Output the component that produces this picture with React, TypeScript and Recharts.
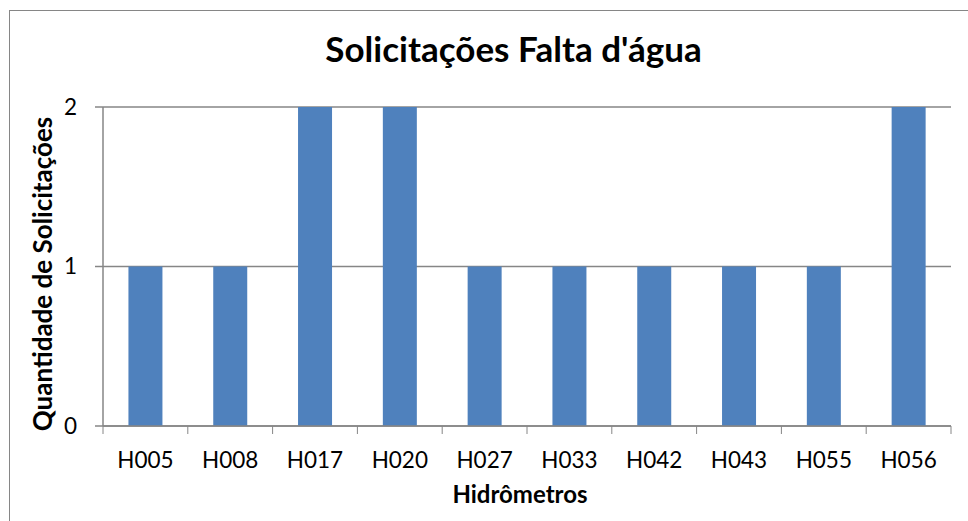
import React from 'react';
import { BarChart, Bar, XAxis, YAxis, CartesianGrid } from 'recharts';

// dados
const hidrometros = ['H005', 'H008', 'H017', 'H020', 'H027', 'H033', 'H042', 'H043', 'H055', 'H056'];
const solicitacoes = [1, 1, 2, 2, 1, 1, 1, 1, 1, 2];
const yTicks = [0, 1, 2];

const data = hidrometros.map((h, i) => ({ name: h, qtd: solicitacoes[i] }));

const W = 968;
const H = 521;
const MARGIN = { top: 107, right: 17, bottom: 35, left: 43 };
const Y_AXIS_W = 60;
const X_AXIS_H = 60;
const PLOT_W = W - MARGIN.left - MARGIN.right - Y_AXIS_W;
const BAND = PLOT_W / hidrometros.length;

const FONT = 'Lato, "Open Sans", sans-serif';
const AXIS_COLOR = '#868686';

// rótulo do eixo X com as marcas nos limites das categorias
const XTick = (props: any) => {
  const { x, y, payload, index } = props;
  const axisY = y - 8 - 18;
  const left = x - BAND / 2;
  const right = x + BAND / 2;
  return (
    <g>
      <line x1={left} x2={left} y1={axisY} y2={axisY + 8} stroke={AXIS_COLOR} />
      {index === hidrometros.length - 1 && (
        <line x1={right} x2={right} y1={axisY} y2={axisY + 8} stroke={AXIS_COLOR} />
      )}
      <text x={x} y={y} dy="0.71em" textAnchor="middle" fill="#000" fontSize={22.5} fontFamily={FONT}>
        {payload.value}
      </text>
    </g>
  );
};

const YTitle = () => (
  <text
    x={42}
    y={274}
    transform="rotate(-90 42 274)"
    textAnchor="middle"
    dominantBaseline="central"
    fontSize={26}
    fontWeight={700}
    fontFamily={FONT}
    fill="#000"
  >
    Quantidade de Solicitações
  </text>
);

const XTitle = () => (
  <text
    x={520}
    y={503}
    textAnchor="middle"
    fontSize={24}
    fontWeight={700}
    fontFamily={FONT}
    fill="#000"
  >
    Hidrômetros
  </text>
);

export default function App() {
  return (
    <div style={{ position: 'absolute', left: 0, top: 0, width: W, height: H, overflow: 'hidden', background: '#fff' }}>
      {/* moldura do gráfico */}
      <div
        style={{
          position: 'absolute',
          left: 9,
          top: 10,
          width: W,
          height: H,
          border: `1px solid ${AXIS_COLOR}`,
        }}
      />
      <div
        style={{
          position: 'absolute',
          left: 0,
          width: 1027,
          top: 28,
          textAlign: 'center',
          fontFamily: FONT,
          fontWeight: 700,
          fontSize: 35,
          lineHeight: '40px',
          color: '#000',
        }}
      >
        Solicitações Falta d'água
      </div>
      <div style={{ position: 'absolute', left: 0, top: 0 }}>
        <BarChart width={W} height={H} data={data} margin={MARGIN} barCategoryGap="30%">
          <CartesianGrid vertical={false} stroke={AXIS_COLOR} strokeWidth={1.5} />
          <XAxis
            dataKey="name"
            height={X_AXIS_H}
            stroke={AXIS_COLOR}
            strokeWidth={1.5}
            tickLine={false}
            tickSize={8}
            tickMargin={18}
            tick={<XTick />}
            interval={0}
            label={{ content: () => <XTitle /> }}
          />
          <YAxis
            width={Y_AXIS_W}
            domain={[0, 2]}
            ticks={yTicks}
            stroke={AXIS_COLOR}
            strokeWidth={1.5}
            tickSize={8}
            tickMargin={18}
            tick={{ fill: '#000', fontSize: 22.5, fontFamily: FONT }}
            label={{ content: () => <YTitle /> }}
          />
          <Bar dataKey="qtd" fill="#4F81BD" isAnimationActive={false} />
        </BarChart>
      </div>
    </div>
  );
}
